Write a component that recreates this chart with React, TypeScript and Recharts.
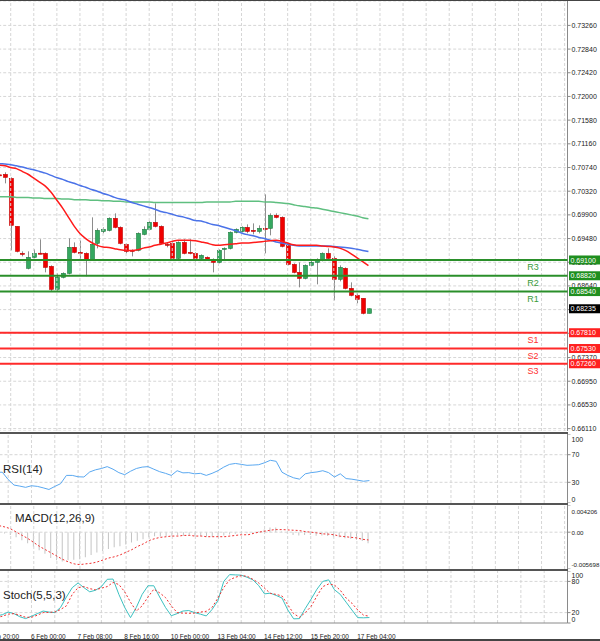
import React from 'react';
import { ComposedChart, Bar, Line, XAxis, YAxis, CartesianGrid, ReferenceLine } from 'recharts';

// ---------- data (index 0 = the partly hidden bar at the left edge) ----------
const OPEN = [0.7061, 0.70618, 0.70547, 0.69696, 0.69217, 0.68952, 0.69147, 0.6922, 0.69217, 0.68987, 0.68579, 0.68792, 0.68863, 0.69324, 0.69235, 0.69217, 0.69111, 0.69395, 0.69607, 0.69625, 0.69838, 0.69678, 0.69377, 0.69271, 0.69271, 0.69554, 0.69643, 0.69767, 0.69696, 0.69377, 0.69395, 0.69129, 0.69412, 0.69235, 0.69217, 0.69129, 0.69147, 0.69111, 0.69058, 0.69288, 0.69306, 0.6959, 0.69607, 0.69678, 0.69625, 0.69607, 0.69661, 0.69661, 0.69891, 0.69856, 0.69359, 0.69022, 0.68881, 0.68774, 0.69005, 0.69058, 0.69093, 0.69217, 0.69129, 0.68757, 0.68952, 0.68597, 0.68473, 0.6842, 0.68154];
const HIGH = [0.7063, 0.70654, 0.70565, 0.69696, 0.69253, 0.69253, 0.69288, 0.69466, 0.69235, 0.69005, 0.68863, 0.68881, 0.69483, 0.69412, 0.69448, 0.69235, 0.69856, 0.69661, 0.69678, 0.69856, 0.69927, 0.69696, 0.69395, 0.69288, 0.6959, 0.69696, 0.69785, 0.70104, 0.69714, 0.69412, 0.69412, 0.6943, 0.69466, 0.69466, 0.69235, 0.692, 0.69164, 0.69129, 0.69288, 0.69324, 0.69607, 0.69661, 0.69696, 0.69732, 0.69749, 0.69714, 0.70264, 0.69927, 0.69927, 0.69873, 0.69377, 0.6904, 0.69058, 0.69022, 0.69093, 0.69129, 0.69235, 0.69306, 0.69164, 0.69005, 0.68969, 0.68703, 0.68508, 0.6842, 0.68242];
const LOW = [0.7058, 0.70459, 0.69271, 0.69235, 0.69164, 0.68934, 0.69129, 0.692, 0.68881, 0.68544, 0.68544, 0.68774, 0.68845, 0.69217, 0.69093, 0.6881, 0.69093, 0.69306, 0.69572, 0.69607, 0.69661, 0.69377, 0.69217, 0.69164, 0.69253, 0.69537, 0.69625, 0.69678, 0.69377, 0.69324, 0.69111, 0.69111, 0.692, 0.692, 0.69076, 0.69111, 0.69093, 0.68881, 0.6904, 0.69111, 0.69288, 0.69572, 0.6959, 0.69572, 0.69554, 0.69572, 0.69217, 0.69537, 0.69838, 0.69324, 0.69005, 0.68863, 0.68615, 0.68757, 0.68987, 0.68668, 0.69076, 0.69111, 0.68384, 0.68721, 0.68579, 0.68455, 0.68331, 0.68136, 0.68154];
const CLOSE = [0.706, 0.70565, 0.69714, 0.69253, 0.692, 0.69147, 0.69217, 0.69217, 0.68969, 0.68579, 0.68792, 0.68863, 0.69324, 0.69235, 0.69217, 0.69111, 0.69377, 0.69625, 0.69643, 0.69838, 0.69678, 0.69395, 0.69253, 0.69253, 0.69572, 0.69643, 0.69767, 0.69696, 0.69395, 0.69368, 0.69129, 0.69412, 0.69217, 0.69226, 0.69129, 0.69182, 0.69111, 0.69058, 0.69271, 0.69306, 0.6959, 0.69643, 0.69678, 0.69607, 0.69616, 0.69661, 0.69652, 0.69891, 0.69856, 0.69342, 0.69022, 0.68881, 0.68774, 0.69005, 0.69058, 0.69093, 0.69217, 0.69129, 0.68757, 0.68969, 0.68597, 0.68473, 0.68402, 0.68154, 0.68235];

const MA_FAST = [0.7078, 0.7077, 0.7074, 0.7072, 0.7067, 0.7062, 0.7055, 0.7048, 0.7041, 0.703, 0.7016, 0.7002, 0.6986, 0.697, 0.6957, 0.6948, 0.6941, 0.6936, 0.6933, 0.6932, 0.693, 0.6928, 0.6927, 0.6927, 0.6928, 0.6931, 0.6933, 0.6936, 0.6938, 0.694, 0.6943, 0.6945, 0.6945, 0.6945, 0.6944, 0.6942, 0.694, 0.6937, 0.6936, 0.6937, 0.6938, 0.6939, 0.694, 0.694, 0.6941, 0.6942, 0.6943, 0.6944, 0.6945, 0.6943, 0.694, 0.6937, 0.6936, 0.6936, 0.6936, 0.6936, 0.6935, 0.6934, 0.6933, 0.6931, 0.6927, 0.6921, 0.6914, 0.6907, 0.69];
const MA_MID = [0.7081, 0.708, 0.7079, 0.7077, 0.7075, 0.7072, 0.707, 0.7067, 0.7064, 0.706, 0.7056, 0.7053, 0.7049, 0.7046, 0.7042, 0.7039, 0.7035, 0.7032, 0.7028, 0.7025, 0.7021, 0.7018, 0.7016, 0.7012, 0.7009, 0.7006, 0.7003, 0.7, 0.6996, 0.6994, 0.6991, 0.6988, 0.6986, 0.6983, 0.698, 0.6979, 0.6976, 0.6973, 0.6971, 0.6968, 0.6965, 0.6962, 0.6958, 0.6955, 0.6953, 0.695, 0.6948, 0.6945, 0.6942, 0.694, 0.6938, 0.6936, 0.6935, 0.6935, 0.6935, 0.6935, 0.6935, 0.6935, 0.6934, 0.6933, 0.6932, 0.6931, 0.6929, 0.6927, 0.6925];
const MA_SLOW = [0.7022, 0.7022, 0.7022, 0.7021, 0.7021, 0.7021, 0.702, 0.702, 0.7019, 0.7019, 0.7019, 0.7018, 0.7018, 0.7017, 0.7017, 0.7017, 0.7016, 0.7016, 0.7015, 0.7015, 0.7014, 0.7014, 0.7013, 0.7013, 0.7013, 0.7013, 0.7013, 0.7012, 0.7012, 0.7012, 0.7012, 0.7012, 0.7012, 0.7012, 0.7012, 0.7012, 0.7013, 0.7013, 0.7013, 0.7013, 0.7013, 0.7014, 0.7014, 0.7014, 0.7014, 0.7014, 0.7013, 0.7013, 0.7012, 0.7011, 0.701, 0.7008, 0.7006, 0.7005, 0.7003, 0.7002, 0.7, 0.6998, 0.6996, 0.6994, 0.6992, 0.699, 0.6988, 0.6985, 0.6983];

const RSI = [44.6, 44.6, 34, 26, 24.5, 22.7, 25, 24.1, 22, 19.6, 24, 28, 40, 40, 38, 37.7, 45, 48.1, 50, 52.7, 49, 44, 41, 46, 50, 52, 52.7, 49, 45.4, 43, 40, 46.8, 43.7, 44, 42.3, 43, 40, 43, 46.8, 52, 56, 57.3, 56, 54.6, 55, 55.5, 58.3, 61.9, 60.4, 44.6, 40, 36.5, 34.6, 42.3, 44, 45, 46.8, 44, 37.7, 42.3, 35.4, 34.5, 33.1, 31.5, 32.5];
const MACD_MAIN = [null, -0.0002, -0.00044, -0.0008, -0.00123, -0.0017, -0.00225, -0.0028, -0.00334, -0.004, -0.00436, -0.00454, -0.00436, -0.00425, -0.00417, -0.00388, -0.00352, -0.00316, -0.0029, -0.00261, -0.00232, -0.00218, -0.00189, -0.0016, -0.00134, -0.00109, -0.0008, -0.00062, -0.00065, -0.00058, -0.00054, -0.00047, -0.00054, -0.00051, -0.00058, -0.00058, -0.00065, -0.00073, -0.00065, -0.00051, -0.00036, -0.00025, -0.00018, -0.00015, -0.00007, 0.0001, 0.00041, 0.00071, 0.00071, 0.0001, -0.00022, -0.00044, -0.00051, -0.00044, -0.00044, -0.00054, -0.00051, -0.00058, -0.0008, -0.0008, -0.00094, -0.00102, -0.00116, -0.00138, -0.0017];
const MACD_SIGNAL = [0.001, 0.0008, 0.0005, 0, -0.0005, -0.001, -0.0016, -0.0022, -0.0027, -0.0032, -0.0037, -0.0042, -0.0046, -0.0049, -0.005, -0.0049, -0.0048, -0.0046, -0.0043, -0.004, -0.0038, -0.0035, -0.0031, -0.0027, -0.0022, -0.0018, -0.0013, -0.001, -0.0008, -0.0007, -0.0006, -0.0006, -0.0005, -0.0005, -0.0006, -0.0006, -0.0007, -0.0007, -0.0007, -0.0007, -0.0006, -0.0005, -0.0004, -0.0004, -0.0002, 0, 0.00015, 0.0003, 0.0004, 0.0004, 0.00035, 0.0003, 0.00025, 0.0001, 0, -0.0001, -0.00025, -0.0003, -0.0004, -0.0006, -0.0007, -0.0008, -0.0009, -0.0011, -0.0012];
const STOCH_MAIN = [13.6, 16, 21, 18, 12, 8.5, 13, 18, 23, 21, 20, 30, 50, 68, 77, 68, 60, 63, 70, 84, 84.5, 55, 30, 10.3, 30, 55, 71.6, 71.6, 50, 30, 14, 18, 23, 24, 20, 17, 13.6, 26, 43, 80, 93, 92.5, 92, 88, 83, 72, 56, 57.4, 53, 48, 25, 8, 8.4, 28, 46, 65, 80, 83, 64, 55, 40, 25, 10.3, 10, 10.5];
const STOCH_SIGNAL = [10.3, 13, 17, 18, 15, 11, 11, 15, 20, 20.5, 21, 26, 33, 55, 68, 70, 66, 64, 67, 70, 78, 74, 60, 40, 23, 33, 50, 65, 58, 49, 33, 20, 19, 18.7, 19, 21, 22.5, 30, 48, 68, 83, 88, 91, 90, 84, 77, 67, 57, 55, 52, 35, 18, 11, 20, 32, 52, 70, 75, 73, 63, 48, 38, 25, 15, 13];

const PRICE_TICKS = [0.7326, 0.7284, 0.7242, 0.72, 0.7158, 0.7116, 0.7074, 0.7032, 0.699, 0.6948, 0.6906, 0.6864, 0.6822, 0.678, 0.6737, 0.6695, 0.6653, 0.6611];
const PRICE_TICK_LABELS = ['0.73260', '0.72840', '0.72420', '0.72000', '0.71580', '0.71160', '0.70740', '0.70320', '0.69900', '0.69480', '0.69060', '0.68640', '0.68220', '0.67800', '0.67370', '0.66950', '0.66530', '0.66110'];
const PRICE_MIN = 0.660674;
const PRICE_MAX = 0.736926;

const RESIST_NAMES = ['R3', 'R2', 'R1'];
const RESIST_VALUES = [0.691, 0.6882, 0.6854];
const SUPPORT_NAMES = ['S1', 'S2', 'S3'];
const SUPPORT_VALUES = [0.6781, 0.6753, 0.6726];
const LAST_PRICE = 0.68235;

const RSI_TICKS = [0, 30, 70, 100];
const RSI_LEVELS = [30, 70];
const MACD_TICKS = [-0.005698, 0, 0.004206];
const MACD_TICK_LABELS = ['-0.005698', '0.00', '0.004206'];
const STOCH_TICKS = [0, 20, 80, 100];
const STOCH_LEVELS = [20, 80];

const X_LABELS = ['5 Feb 20:00', '6 Feb 00:00', '7 Feb 08:00', '8 Feb 16:00', '10 Feb 00:00', '13 Feb 04:00', '14 Feb 12:00', '15 Feb 20:00', '17 Feb 04:00'];
const X_LABEL_BARS = [-3, 5, 13, 21, 29, 37, 45, 53, 61]; // bar number (0 = first full bar)

// ---------- layout ----------
const LEAD = 4;
const TRAIL = 34;
const FIRST_BAR_ROW = 1;
const TOTAL = LEAD + OPEN.length + TRAIL;
const W = 600;
const AXIS_W = 32.5;
const MARGIN = { top: 0, right: 0, bottom: 0, left: -26.8 };
const FONT = '"Liberation Sans", Arial, sans-serif';
const GRID = '#d6d6d6';

const rows = Array.from({ length: TOTAL }, (_, k) => {
  const j = k - LEAD;
  const has = j >= 0 && j < OPEN.length;
  return {
    k,
    o: has ? OPEN[j] : undefined,
    h: has ? HIGH[j] : undefined,
    l: has ? LOW[j] : undefined,
    c: has ? CLOSE[j] : undefined,
    range: has ? [LOW[j], HIGH[j]] : undefined,
    maFast: has ? MA_FAST[j] : undefined,
    maMid: has ? MA_MID[j] : undefined,
    maSlow: has ? MA_SLOW[j] : undefined,
    rsi: has ? RSI[j] : undefined,
    macd: has && MACD_MAIN[j] != null ? MACD_MAIN[j] : undefined,
    signal: has ? MACD_SIGNAL[j] : undefined,
    stK: has ? STOCH_MAIN[j] : undefined,
    stD: has ? STOCH_SIGNAL[j] : undefined,
  };
});

const barToK = (b: number) => b + FIRST_BAR_ROW + LEAD;
const GRID_K: number[] = [];
for (let k = barToK(1); k < TOTAL; k += 4) GRID_K.push(k);
const X_LABEL_K = X_LABEL_BARS.map(barToK);

const Candle = (props: any) => {
  const { x, y, width, height, payload } = props;
  if (!payload || payload.o == null || x == null || y == null) return null;
  const { o, h, l, c } = payload;
  const top = Math.min(y, y + height);
  const hh = Math.abs(height);
  const span = h - l;
  const toY = (v: number) => (span === 0 ? top : top + ((h - v) / span) * hh);
  const bTop = toY(Math.max(o, c));
  const bBot = toY(Math.min(o, c));
  const up = c > o;
  const cx = Math.round(x + width / 2) + 0.5;
  return (
    <g>
      <line x1={cx} x2={cx} y1={top} y2={top + hh} stroke="#8c8c8c" strokeWidth={1} />
      <rect
        x={cx - 2}
        y={bTop}
        width={4}
        height={Math.max(1, bBot - bTop)}
        fill={up ? '#35a860' : '#f00000'}
        stroke={up ? '#1f7d40' : '#c00000'}
        strokeWidth={0.6}
      />
    </g>
  );
};

// tick label for the right-hand axes; minY/maxY keep the end labels inside their panel
const makeTick = (fmt: (v: number) => string, minY: number, maxY: number, size = 7) => (props: any) => {
  const { x, y, payload } = props;
  const yy = Math.max(minY, Math.min(maxY, y));
  return (
    <text x={x} y={yy} dy={2.5} fontSize={size} fill="#222" fontFamily={FONT} textAnchor="start">
      {fmt(payload.value)}
    </text>
  );
};

const priceFmt = (v: number) => {
  const i = PRICE_TICKS.indexOf(v);
  return i >= 0 ? PRICE_TICK_LABELS[i] : v.toFixed(5);
};
const macdFmt = (v: number) => {
  const i = MACD_TICKS.indexOf(v);
  return i >= 0 ? MACD_TICK_LABELS[i] : String(v);
};

const LevelTag = (props: any) => {
  const { viewBox, name, value, bg, color } = props;
  if (!viewBox) return null;
  const { x, y, width } = viewBox;
  const right = x + width;
  return (
    <g>
      {name ? (
        <text x={right - 34.5} y={y + 10} textAnchor="middle" fontSize={9} fill={color} fontFamily={FONT}>
          {name}
        </text>
      ) : null}
      <rect x={right + 1.5} y={y - 4.5} width={33} height={9} fill={bg} />
      <text x={right + 3} y={y + 2.6} fontSize={7} fill="#fff" fontFamily={FONT}>
        {value.toFixed(5)}
      </text>
    </g>
  );
};

const vGrid = (prefix: string) =>
  GRID_K.map((k) => (
    <ReferenceLine key={prefix + k} x={k} stroke={GRID} strokeDasharray="3 2" strokeWidth={1} />
  ));

const hLevels = (vals: number[], prefix: string) =>
  vals.map((v) => <ReferenceLine key={prefix + v} y={v} stroke={GRID} strokeDasharray="3 2" strokeWidth={1} />);

const yAxisCommon = {
  orientation: 'right' as const,
  width: AXIS_W,
  axisLine: { stroke: '#8a8a8a' },
  tickLine: { stroke: '#8a8a8a' },
  tickSize: 3,
  tickMargin: 1,
  interval: 0 as const,
  allowDataOverflow: true,
  type: 'number' as const,
};

const XLabelTick = (props: any) => {
  const { x, y, payload } = props;
  const i = X_LABEL_K.indexOf(payload.value);
  if (i < 0) return null;
  return (
    <text x={x - 0.5} y={y + 8} fontSize={6.5} fill="#222" fontFamily={FONT} textAnchor="start">
      {X_LABELS[i]}
    </text>
  );
};

const panelTitle = (text: string, left: number, top: number) => (
  <div
    style={{
      position: 'absolute',
      left,
      top,
      fontFamily: FONT,
      fontSize: 11.5,
      color: '#222',
      lineHeight: '12px',
      whiteSpace: 'nowrap',
      pointerEvents: 'none',
    }}
  >
    {text}
  </div>
);

const sep = (top: number, h: number, color: string, width = 568) => (
  <div style={{ position: 'absolute', left: 0, top, width, height: h, background: color }} />
);

export default function App() {
  return (
    <div style={{ position: 'absolute', left: 0, top: 0, width: W, height: 641, background: '#fff', overflow: 'hidden' }}>
      {/* main price panel */}
      <div style={{ position: 'absolute', left: 0, top: 0 }}>
        <ComposedChart width={W} height={431} data={rows} margin={{ ...MARGIN, top: 1 }}>
          <CartesianGrid vertical={false} stroke={GRID} strokeDasharray="3 2" />
          {vGrid('m')}
          <XAxis dataKey="k" type="category" hide />
          <YAxis
            {...yAxisCommon}
            domain={[PRICE_MIN, PRICE_MAX]}
            ticks={PRICE_TICKS}
            tick={makeTick(priceFmt, 0, 428)}
          />
          <Bar dataKey="range" barSize={4} shape={Candle} isAnimationActive={false} />
          <Line dataKey="maSlow" type="monotone" stroke="#5fbf80" strokeWidth={1.5} dot={false} isAnimationActive={false} />
          <Line dataKey="maMid" type="monotone" stroke="#4a72e8" strokeWidth={1.5} dot={false} isAnimationActive={false} />
          <Line dataKey="maFast" type="monotone" stroke="#ff1a1a" strokeWidth={1.5} dot={false} isAnimationActive={false} />
        </ComposedChart>
      </div>

      {/* support / resistance levels and price tags, on top of the axis labels */}
      <div style={{ position: 'absolute', left: 0, top: 0 }}>
        <ComposedChart width={W} height={431} data={rows} margin={{ ...MARGIN, top: 1 }}>
          <XAxis dataKey="k" type="category" hide />
          <YAxis
            orientation="right"
            width={AXIS_W}
            type="number"
            domain={[PRICE_MIN, PRICE_MAX]}
            allowDataOverflow
            tick={false}
            tickLine={false}
            axisLine={false}
          />
          {RESIST_VALUES.map((v, i) => (
            <ReferenceLine
              key={'r' + i}
              y={v}
              stroke="#2a8f2a"
              strokeWidth={2}
              ifOverflow="visible"
              label={<LevelTag name={RESIST_NAMES[i]} value={v} bg="#1f8f1f" color="#3a9a3a" />}
            />
          ))}
          {SUPPORT_VALUES.map((v, i) => (
            <ReferenceLine
              key={'s' + i}
              y={v}
              stroke="#ff2a2a"
              strokeWidth={2}
              ifOverflow="visible"
              label={<LevelTag name={SUPPORT_NAMES[i]} value={v} bg="#ff2020" color="#ff3030" />}
            />
          ))}
          <ReferenceLine
            y={LAST_PRICE}
            stroke="none"
            ifOverflow="visible"
            label={<LevelTag name="" value={LAST_PRICE} bg="#000" color="#000" />}
          />
        </ComposedChart>
      </div>

      {/* RSI */}
      <div style={{ position: 'absolute', left: 0, top: 434 }}>
        <ComposedChart width={W} height={69} data={rows} margin={MARGIN}>
          {vGrid('r')}
          {hLevels(RSI_LEVELS, 'rl')}
          <XAxis dataKey="k" type="category" hide />
          <YAxis {...yAxisCommon} domain={[0, 100]} ticks={RSI_TICKS} tick={makeTick((v) => String(v), 5, 65)} />
          <Line dataKey="rsi" type="linear" stroke="#5aa8f0" strokeWidth={1} dot={false} isAnimationActive={false} />
        </ComposedChart>
      </div>

      {/* MACD */}
      <div style={{ position: 'absolute', left: 0, top: 505 }}>
        <ComposedChart width={W} height={64} data={rows} margin={MARGIN}>
          {vGrid('d')}
          {hLevels([0], 'dl')}
          <XAxis dataKey="k" type="category" hide />
          <YAxis
            {...yAxisCommon}
            domain={[MACD_TICKS[0], MACD_TICKS[2]]}
            ticks={MACD_TICKS}
            tick={makeTick(macdFmt, 6, 59, 6.2)}
          />
          <Bar dataKey="macd" barSize={1} fill="#c4c4c4" isAnimationActive={false} />
          <Line dataKey="signal" type="monotone" stroke="#f03030" strokeWidth={1} strokeDasharray="2 2" dot={false} isAnimationActive={false} />
        </ComposedChart>
      </div>

      {/* Stochastic */}
      <div style={{ position: 'absolute', left: 0, top: 571 }}>
        <ComposedChart width={W} height={69} data={rows} margin={MARGIN}>
          {vGrid('s')}
          {hLevels(STOCH_LEVELS, 'sl')}
          <XAxis
            dataKey="k"
            type="category"
            height={17}
            ticks={X_LABEL_K}
            interval={0}
            tickLine={false}
            axisLine={{ stroke: '#8a8a8a' }}
            tick={XLabelTick}
          />
          <YAxis {...yAxisCommon} domain={[0, 100]} ticks={STOCH_TICKS} tick={makeTick((v) => String(v), 4, 48)} />
          <Line dataKey="stK" type="linear" stroke="#3cc0c0" strokeWidth={1} dot={false} isAnimationActive={false} />
          <Line dataKey="stD" type="linear" stroke="#f03030" strokeWidth={1} strokeDasharray="2 2" dot={false} isAnimationActive={false} />
        </ComposedChart>
      </div>

      {sep(0, 1, '#444', W)}
      {sep(432, 2, '#555')}
      {sep(503, 2, '#555')}
      {sep(569, 2, '#555')}
      {sep(639, 2, '#444', W)}

      {panelTitle('RSI(14)', 3, 463)}
      {panelTitle('MACD(12,26,9)', 15, 512)}
      {panelTitle('Stoch(5,5,3)', 3, 589)}
    </div>
  );
}
